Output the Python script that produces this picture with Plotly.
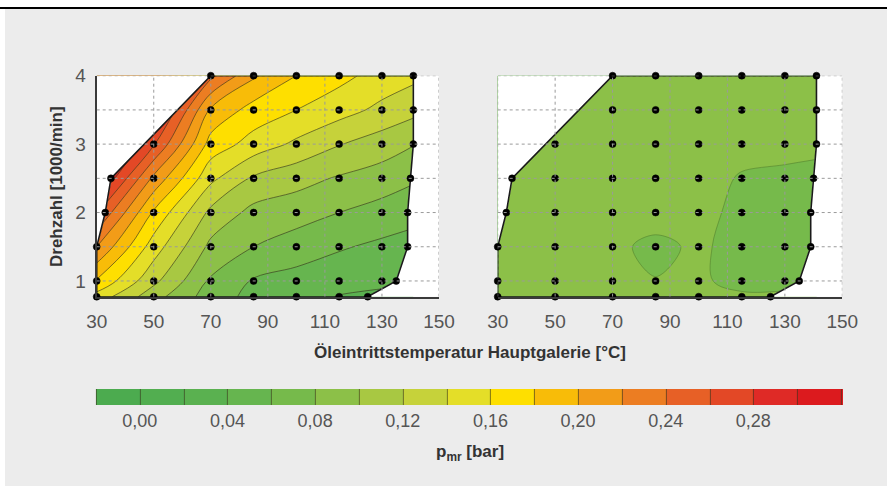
import plotly.graph_objects as go

W, H = 887, 486

# ---------------- data ----------------
x_grid = [30, 50, 70, 85, 100, 115, 130, 141]
y_grid = [0.77, 1.0, 1.5, 2.0, 2.5, 3.0, 3.5, 4.0]

# p_mr [bar], left map (rows = y_grid, cols = x_grid)
z_left = [
    [0.152, 0.108, 0.070, 0.054, 0.048, 0.039, 0.035, 0.033],
    [0.178, 0.125, 0.077, 0.058, 0.053, 0.048, 0.045, 0.043],
    [0.220, 0.150, 0.095, 0.080, 0.070, 0.062, 0.056, 0.053],
    [0.262, 0.177, 0.115, 0.094, 0.089, 0.080, 0.072, 0.066],
    [0.310, 0.215, 0.145, 0.117, 0.107, 0.098, 0.091, 0.083],
    [0.340, 0.262, 0.172, 0.152, 0.136, 0.121, 0.110, 0.101],
    [0.360, 0.300, 0.197, 0.172, 0.160, 0.148, 0.135, 0.126],
    [0.380, 0.330, 0.245, 0.203, 0.180, 0.166, 0.152, 0.145],
]

# p_mr [bar], right map
z_right = [
    [0.090, 0.092, 0.091, 0.088, 0.086, 0.083, 0.084, 0.084],
    [0.091, 0.092, 0.090, 0.081, 0.083, 0.074, 0.073, 0.076],
    [0.092, 0.092, 0.086, 0.073, 0.085, 0.069, 0.068, 0.071],
    [0.092, 0.093, 0.091, 0.093, 0.088, 0.073, 0.070, 0.072],
    [0.093, 0.093, 0.092, 0.090, 0.089, 0.078, 0.076, 0.075],
    [0.093, 0.093, 0.092, 0.091, 0.090, 0.088, 0.086, 0.084],
    [0.093, 0.093, 0.092, 0.091, 0.091, 0.090, 0.089, 0.088],
    [0.093, 0.093, 0.092, 0.092, 0.091, 0.090, 0.090, 0.089],
]

# measured operating points (per speed row)
pt_rows_y = [0.77, 1.0, 1.5, 2.0, 2.5, 3.0, 3.5, 4.0]
pt_rows_x = [
    [30, 50, 70, 85, 100, 115, 125],
    [30, 50, 70, 85, 100, 115, 130, 135],
    [30, 50, 70, 85, 100, 115, 130, 139],
    [33, 50, 70, 85, 100, 115, 130, 139],
    [35, 50, 70, 85, 100, 115, 130, 140],
    [50, 70, 85, 100, 115, 130, 141],
    [70, 85, 100, 115, 130, 141],
    [70, 85, 100, 115, 130, 141],
]

# envelope of the measured map: left edge (bottom -> top), right edge (top -> bottom)
env_left_x = [30, 30, 33, 35, 70]
env_left_y = [0.77, 1.5, 2.0, 2.5, 4.0]
env_right_x = [141, 141, 140, 139, 139, 135, 125]
env_right_y = [4.0, 3.0, 2.5, 2.0, 1.5, 1.0, 0.77]

x_ticks = [30, 50, 70, 90, 110, 130, 150]
y_ticks = [1, 2, 3, 4]
y_gridvals = [1.0, 1.5, 2.0, 2.5, 3.0, 3.5, 4.0]
x_range = [30, 150]
y_range = [0.77, 4.0]

cb_ticks = [0.00, 0.04, 0.08, 0.12, 0.16, 0.20, 0.24, 0.28]
level_start, level_end, level_step = -0.02, 0.32, 0.02

band_colors = [
    "#4cab4f", "#52ae50", "#5ab150", "#66b54f", "#76ba4b", "#8cc048",
    "#a8c842", "#c6d23a", "#e4de28", "#fedf00", "#f8bc08", "#f29c18",
    "#ec7d22", "#e76026", "#e34826", "#df2a26", "#dc1a1e",
]

# ---------------- figure ----------------
n = len(band_colors)
cscale = []
for k, c in enumerate(band_colors):
    cscale.append([k / n, c])
    cscale.append([(k + 1) / n, c])


def px_x(p):
    return p / W


def px_y(p):
    return 1 - p / H


fig = go.Figure()

contour_common = dict(
    x=x_grid, y=y_grid, colorscale=cscale,
    zmin=level_start, zmax=level_end, zauto=False,
    autocontour=False,
    contours=dict(start=level_start, end=level_end, size=level_step, coloring="fill"),
    hoverinfo="skip",
)

fig.add_trace(go.Contour(
    z=z_left, xaxis="x", yaxis="y",
    line=dict(color="rgba(55,55,30,0.8)", width=0.8, smoothing=1),
    showscale=True,
    colorbar=dict(
        orientation="h", x=468.5 / W, xanchor="center",
        y=px_y(389), yanchor="top",
        len=745, lenmode="pixels", thickness=16, thicknessmode="pixels",
        xpad=0, ypad=0, outlinewidth=0,
        tickvals=cb_ticks, tickformat=".2f", ticks="",
        tickfont=dict(family="Liberation Sans", size=18, color="#555555"),
    ),
    **contour_common,
))
fig.add_trace(go.Contour(
    z=z_right, xaxis="x2", yaxis="y2",
    line=dict(color="rgba(80,125,45,0.7)", width=0.8, smoothing=1),
    showscale=False,
    **contour_common,
))

# masks outside the envelope, envelope outline and points
left_mask_x = env_left_x[1:] + [x_range[0]]
left_mask_y = env_left_y[1:] + [y_range[1]]
right_mask_x = env_right_x + [x_range[1], x_range[1]]
right_mask_y = env_right_y + [y_range[0], y_range[1]]
env_x = env_left_x + env_right_x + [env_left_x[0]]
env_y = env_left_y + env_right_y + [env_left_y[0]]

all_px = [x for row in pt_rows_x for x in row]
all_py = [y for row, y in zip(pt_rows_x, pt_rows_y) for _ in row]

for xa, ya in (("x", "y"), ("x2", "y2")):
    for mx, my in ((left_mask_x, left_mask_y), (right_mask_x, right_mask_y)):
        fig.add_trace(go.Scatter(
            x=mx, y=my, xaxis=xa, yaxis=ya, mode="lines", fill="toself",
            fillcolor="white", line=dict(color="white", width=1, simplify=False),
            hoverinfo="skip", showlegend=False,
        ))
    fig.add_trace(go.Scatter(
        x=env_x, y=env_y, xaxis=xa, yaxis=ya, mode="lines",
        line=dict(color="#1a1a1a", width=1.6), hoverinfo="skip", showlegend=False,
        cliponaxis=False,
    ))
    fig.add_trace(go.Scatter(
        x=all_px, y=all_py, xaxis=xa, yaxis=ya, mode="markers",
        marker=dict(color="black", size=7, line=dict(width=0.5, color="black")),
        showlegend=False, cliponaxis=False, hoverinfo="skip",
    ))

# dotted grid drawn above the fills
shapes = []
grid_style = dict(color="#9a9a9a", width=1, dash="dot")
for xa, ya, xvals in (("x", "y", x_ticks[1:]), ("x2", "y2", x_ticks)):
    for gx in xvals:
        shapes.append(dict(type="line", xref=xa, yref=ya, x0=gx, x1=gx,
                           y0=y_range[0], y1=y_range[1], line=grid_style, layer="above"))
    for gy in y_gridvals:
        shapes.append(dict(type="line", xref=xa, yref=ya, x0=x_range[0], x1=x_range[1],
                           y0=gy, y1=gy, line=grid_style, layer="above"))

# background panel and top rule
shapes.insert(0, dict(type="rect", xref="paper", yref="paper", x0=px_x(5), x1=1,
                      y0=0, y1=px_y(9), fillcolor="#ececec", line=dict(width=0), layer="below"))
shapes.append(dict(type="line", xref="paper", yref="paper", x0=0, x1=1,
                   y0=px_y(8), y1=px_y(8), line=dict(color="black", width=2), layer="below"))

tickfont = dict(family="Liberation Sans", size=19, color="#555555")
ydom = [px_y(296.7), px_y(75.7)]
axis_common = dict(showgrid=False, zeroline=False, ticks="", layer="above traces",
                   tickfont=tickfont, fixedrange=True, automargin=False)

title_font = dict(family="Liberation Sans", size=17, color="#333333")

fig.update_layout(
    width=W, height=H, autosize=False,
    margin=dict(l=0, r=0, t=0, b=0, pad=0, autoexpand=False),
    paper_bgcolor="white", plot_bgcolor="white",
    separators=",.",
    showlegend=False,
    xaxis=dict(domain=[px_x(96.7), px_x(439)], range=x_range, tickvals=x_ticks,
               showline=True, linecolor="#3a3a3a", linewidth=2, anchor="y",
               ticklabelstandoff=6, **axis_common),
    yaxis=dict(domain=ydom, range=y_range, tickvals=y_ticks,
               showline=True, linecolor="#3a3a3a", linewidth=2, anchor="x",
               ticklabelstandoff=5, **axis_common),
    xaxis2=dict(domain=[px_x(497.7), px_x(842.3)], range=x_range, tickvals=x_ticks,
                showline=True, linecolor="#3a3a3a", linewidth=2, anchor="y2",
                ticklabelstandoff=6, **axis_common),
    yaxis2=dict(domain=ydom, range=y_range, tickvals=y_ticks, showticklabels=False,
                showline=False, anchor="x2", **axis_common),
    shapes=shapes,
    annotations=[
        dict(text="<b>Drehzahl [1000/min]</b>", xref="paper", yref="paper",
             x=px_x(57), y=px_y(186), xanchor="center", yanchor="middle",
             textangle=-90, showarrow=False, font=title_font),
        dict(text="<b>Öleintrittstemperatur Hauptgalerie [°C]</b>", xref="paper", yref="paper",
             x=px_x(470), y=px_y(352), xanchor="center", yanchor="middle",
             showarrow=False, font=title_font),
        dict(text="<b>p<sub>mr</sub> [bar]</b>", xref="paper", yref="paper",
             x=px_x(470), y=px_y(453), xanchor="center", yanchor="middle",
             showarrow=False, font=title_font),
    ],
)

fig.write_html("out.html", config={"displayModeBar": False})
